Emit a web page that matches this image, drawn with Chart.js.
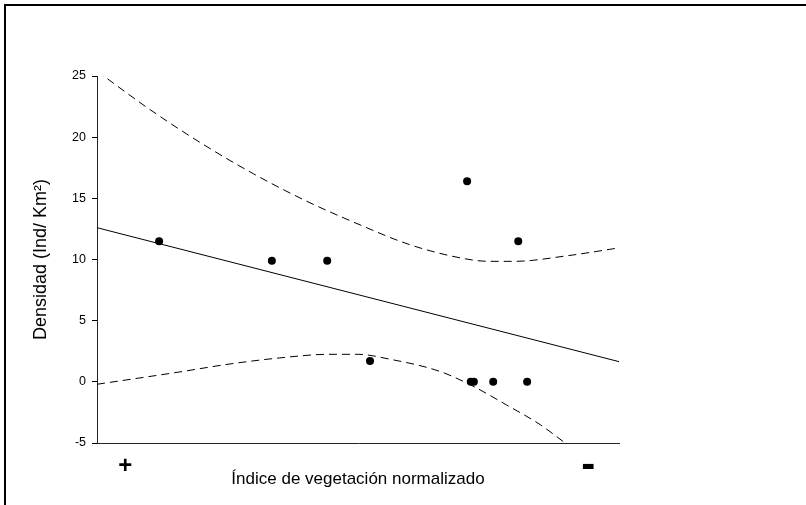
<!DOCTYPE html>
<html>
<head>
<meta charset="utf-8">
<script src="https://cdn.jsdelivr.net/npm/chart.js@4/dist/chart.umd.min.js"></script>
<style>
body{margin:0;background:#fff}
#frame{position:absolute;left:4px;top:4px;width:802px;height:501px;border-left:2px solid #000;border-top:2px solid #000;box-sizing:border-box}
#wrap{position:absolute;left:0;top:0;width:806px;height:505px}
</style>
</head>
<body>
<div id="frame"></div>
<div id="wrap"><canvas id="chart"></canvas></div>
<script>
// observed points (x is position along the NDVI axis, 0..100)
const pointX = [11.9, 33.5, 44.1, 52.3, 70.9, 71.6, 72.2, 75.9, 80.7, 82.4]
const pointY = [11.5, 9.9, 9.9, 1.7, 16.4, 0, 0, 0, 11.5, 0]

// fitted line
const fitX = [0, 100]
const fitY = [12.6, 1.65]

// 95% band
const upperX = [0, 10, 20, 30, 40, 50, 60, 70, 75, 80, 90, 100]
const upperY = [25.4, 22.3, 19.5, 17.0, 14.8, 12.9, 11.2, 10.1, 9.85, 9.85, 10.3, 10.95]
const lowerX = [0, 15.7, 25.3, 34.9, 44.4, 50, 56.1, 65.7, 72, 78.5, 84.9, 90]
const lowerY = [-0.2, 0.8, 1.45, 1.95, 2.25, 2.25, 1.85, 0.85, -0.35, -1.9, -3.5, -5.1]

// x axis end marks
const xMarks = [5.4, 94.1]
const xMarkLabels = ["+", "-"]

const yTicks = [-5, 0, 5, 10, 15, 20, 25]

const toXY = (xs, ys) => xs.map((x, i) => ({x: x, y: ys[i]}))
const fontName = "'Liberation Sans', Arial, sans-serif"

const bandStyle = {
    type: 'line',
    showLine: true,
    borderColor: '#000',
    borderWidth: 1,
    borderDash: [8, 5],
    pointRadius: 0,
    cubicInterpolationMode: 'monotone',
    fill: false
}

new Chart(document.getElementById("chart"), {
    type: 'scatter',
    data: {
        datasets: [
            {
                data: toXY(pointX, pointY),
                backgroundColor: '#000',
                borderWidth: 0,
                pointRadius: 4
            },
            {
                type: 'line',
                data: toXY(fitX, fitY),
                borderColor: '#000',
                borderWidth: 1,
                pointRadius: 0
            },
            Object.assign({data: toXY(upperX, upperY)}, bandStyle),
            Object.assign({data: toXY(lowerX, lowerY)}, bandStyle)
        ]
    },
    options: {
        responsive: true,
        maintainAspectRatio: false,
        animation: false,
        layout: {padding: {left: 0, top: 76, right: 187, bottom: 0}},
        plugins: {legend: {display: false}, tooltip: {enabled: false}},
        scales: {
            x: {
                type: 'linear',
                min: 0,
                max: 100,
                afterBuildTicks: s => { s.ticks = xMarks.map(v => ({value: v})) },
                afterFit: s => { s.height = 62 },
                grid: {display: false},
                border: {display: true, color: '#222', width: 1},
                ticks: {
                    color: '#000',
                    padding: 1,
                    maxRotation: 0,
                    autoSkip: false,
                    callback: (v, i) => xMarkLabels[i],
                    font: ctx => ({
                        family: fontName,
                        weight: 'bold',
                        size: ctx.index == 0 ? 24 : 42,
                        lineHeight: '28px'
                    })
                },
                title: {
                    display: true,
                    text: 'Índice de vegetación normalizado',
                    color: '#000',
                    font: {family: fontName, size: 17},
                    padding: {top: 0, bottom: 15}
                }
            },
            y: {
                min: -5,
                max: 25,
                afterBuildTicks: s => { s.ticks = yTicks.map(v => ({value: v})) },
                afterFit: s => { s.width = 97 },
                grid: {drawOnChartArea: false, drawTicks: true, tickLength: 5, color: '#000'},
                border: {display: true, color: '#222', width: 1},
                ticks: {
                    color: '#000',
                    padding: 6,
                    font: {family: fontName, size: 12.5}
                },
                title: {
                    display: true,
                    text: 'Densidad (Ind/ Km²)',
                    color: '#000',
                    font: {family: fontName, size: 18},
                    padding: {top: 30, bottom: 0}
                }
            }
        }
    }
})
</script>
</body>
</html>
